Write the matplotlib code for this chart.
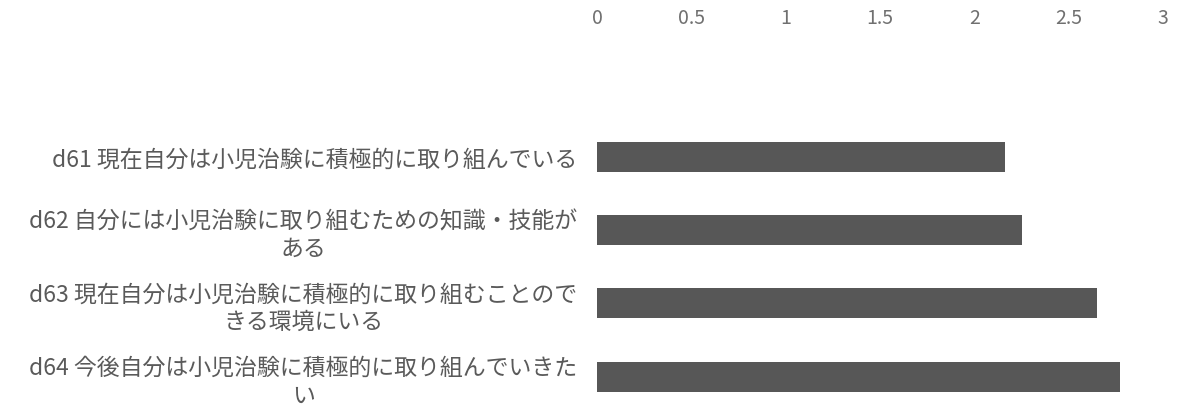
import matplotlib
matplotlib.use("Agg")
import matplotlib.pyplot as plt

plt.rcParams['font.family'] = ['Noto Sans CJK JP', 'DejaVu Sans']

# Survey items (top to bottom) and their mean scores
labels = [
    "d61 現在自分は小児治験に積極的に取り組んでいる",
    "d62 自分には小児治験に取り組むための知識・技能が\nある",
    "d63 現在自分は小児治験に積極的に取り組むことので\nきる環境にいる",
    "d64 今後自分は小児治験に積極的に取り組んでいきた\nい",
]
scores = [2.16, 2.25, 2.65, 2.77]
xticks = [0, 0.5, 1, 1.5, 2, 2.5, 3]
xtick_labels = ["0", "0.5", "1", "1.5", "2", "2.5", "3"]

fig = plt.figure(figsize=(11.87, 4.10), dpi=100)
ax = fig.add_axes([0.503, 0.0, 0.477, 0.902])

pos = list(range(len(labels)))
ax.barh(pos, scores, height=0.41, color="#575757")

ax.set_xlim(0, 3)
ax.set_ylim(3.44, -1.6)
ax.xaxis.tick_top()
ax.set_xticks(xticks)
ax.set_xticklabels(xtick_labels, fontsize=14, color="#707070")
ax.set_yticks(pos)
ax.set_yticklabels(labels, fontsize=16.5, color="#5a5a5a", linespacing=1.25)
for t in ax.get_yticklabels():
    t.set_multialignment("center")

ax.tick_params(axis="both", length=0)
ax.tick_params(axis="x", pad=8)
ax.tick_params(axis="y", pad=14)
for s in ax.spines.values():
    s.set_visible(False)

fig.savefig("out.png", dpi=100)
